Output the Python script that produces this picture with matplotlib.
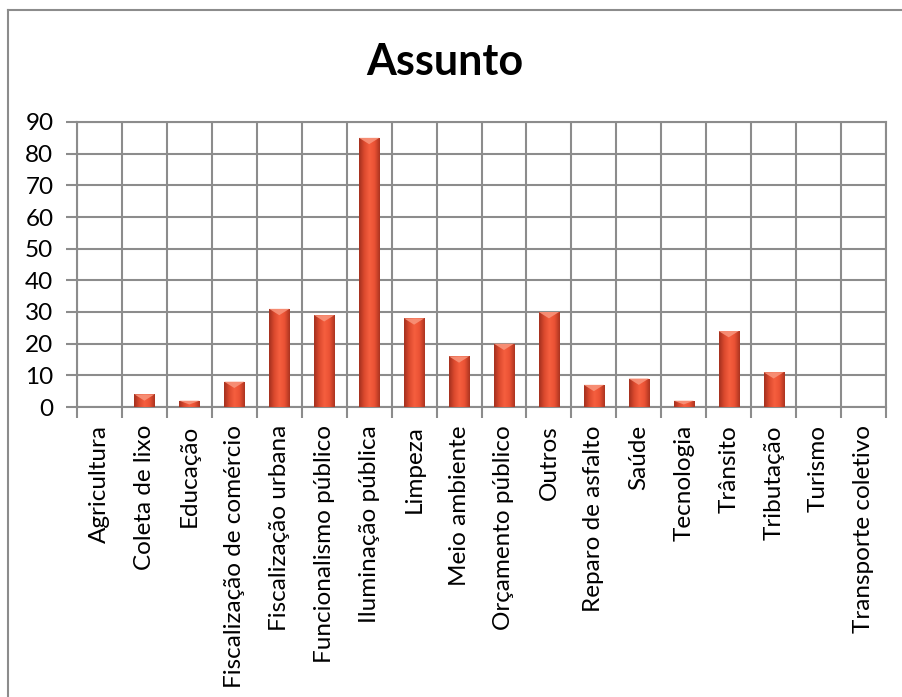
import numpy as np
import matplotlib
matplotlib.use("Agg")
from matplotlib import pyplot as plt
from matplotlib.colors import LinearSegmentedColormap
from matplotlib.patches import Polygon
from matplotlib.lines import Line2D

plt.rcParams['font.family'] = ['Lato', 'DejaVu Sans']

# Data
categories = ["Agricultura", "Coleta de lixo", "Educação", "Fiscalização de comércio",
              "Fiscalização urbana", "Funcionalismo público", "Iluminação pública",
              "Limpeza", "Meio ambiente", "Orçamento público", "Outros",
              "Reparo de asfalto", "Saúde", "Tecnologia", "Trânsito", "Tributação",
              "Turismo", "Transporte coletivo"]
counts = [0, 4, 2, 8, 31, 29, 85, 28, 16, 20, 30, 7, 9, 2, 24, 11, 0, 0]
yticks = list(range(0, 100, 10))

W, H = 903, 697
fig = plt.figure(figsize=(W / 100, H / 100), dpi=100)
ax = fig.add_axes([77 / W, (H - 407) / H, (886 - 77) / W, (407 - 122) / H])

grid_c = '#8c8c8c'
x = np.arange(len(categories))
bw = 0.45

# cylinder-like shading across each bar
cyl = LinearSegmentedColormap.from_list('cyl', ['#a3301e', '#dc4a2e', '#f65f3f', '#ea5234', '#ab3420'])
grad = np.linspace(0, 1, 64).reshape(1, -1)

bars = ax.bar(x, counts, width=bw, color='none', zorder=3)
for rect, v in zip(bars, counts):
    if v <= 0:
        continue
    x0 = rect.get_x()
    x1 = x0 + rect.get_width()
    im = ax.imshow(grad, extent=[x0, x1, 0, v], aspect='auto', cmap=cyl, zorder=3,
                   interpolation='bicubic')
    im.set_clip_path(rect)
    d = min(2.0, v * 0.6)
    cap = Polygon([[x0, v], [x1, v], [x0 + (x1 - x0) * 0.5, v - d]], closed=True,
                  facecolor='#f8937a', edgecolor='none', zorder=4, alpha=0.9)
    ax.add_patch(cap)

ax.set_xlim(-0.5, len(categories) - 0.5)
ax.set_ylim(0, 90)
ax.set_yticks(yticks)
ax.set_xticks(x)
ax.set_xticklabels(categories, rotation=90, fontsize=17.5)
ax.set_xticks(np.arange(-0.5, len(categories)), minor=True)
ax.tick_params(axis='x', which='major', length=0, pad=13)
ax.tick_params(axis='x', which='minor', length=8, width=1.5, color=grid_c, direction='out')
ax.tick_params(axis='y', which='major', length=8, width=1.5, color=grid_c, labelsize=17.5, pad=9)
ax.grid(True, axis='y', which='major', color=grid_c, linewidth=1.5, zorder=1)
ax.grid(True, axis='x', which='minor', color=grid_c, linewidth=1.5, zorder=1)
ax.set_axisbelow(True)
for s in ax.spines.values():
    s.set_color(grid_c)
    s.set_linewidth(1.5)

fig.text(445 / W, 1 - 62 / H, 'Assunto', ha='center', va='center', fontsize=31, fontweight='bold')

# outer chart frame (cropped on the right and bottom)
fig.add_artist(Line2D([8 / W, 1], [1 - 9.5 / H, 1 - 9.5 / H], color='#8c8c8c', lw=1.5, transform=fig.transFigure))
fig.add_artist(Line2D([8 / W, 8 / W], [0, 1 - 9.5 / H], color='#8c8c8c', lw=1.5, transform=fig.transFigure))

fig.savefig('out.png', dpi=100, facecolor='white')
